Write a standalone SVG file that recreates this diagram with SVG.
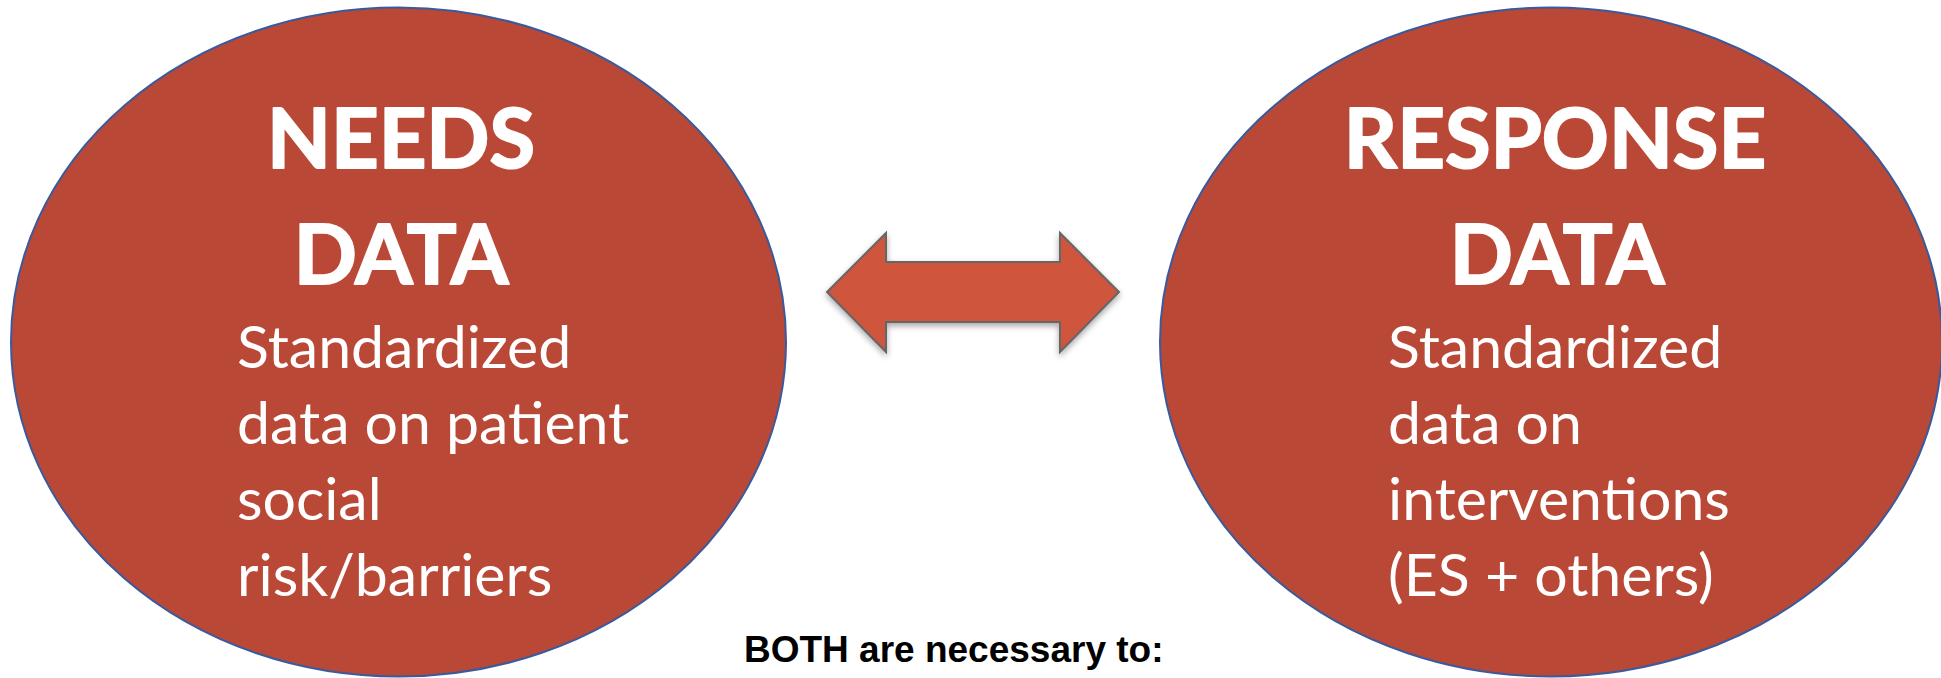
<svg xmlns="http://www.w3.org/2000/svg" width="1941" height="678" viewBox="0 0 1941 678">
<style>
.ell{fill:#B94836;stroke:#3B5A9C;stroke-width:2}
.title{font-family:Lato,"Open Sans",sans-serif;font-weight:700;font-size:83px;fill:#fff;stroke:#fff;stroke-width:2;stroke-linejoin:round;text-anchor:middle}
.body{font-family:Lato,"Open Sans",sans-serif;font-weight:400;font-size:59px;fill:#fff}
.note{font-family:"Liberation Sans",Arial,sans-serif;font-weight:700;font-size:37px;fill:#000}
.arrow{fill:#CF543D;stroke:#666;stroke-width:2;stroke-linejoin:miter}
</style>
<defs>
<filter id="sh" x="-10%" y="-20%" width="120%" height="150%">
<feDropShadow dx="0" dy="3" stdDeviation="3" flood-color="#000" flood-opacity="0.35"/>
</filter>
</defs>
<rect width="1941" height="678" fill="#fff"/>
<g id="needs">
<ellipse class="ell" cx="398.5" cy="342" rx="387.5" ry="334.5"/>
<text class="title" x="401" y="168">NEEDS</text>
<text class="title" x="401" y="284">DATA</text>
<text class="body" x="237" y="368">Standardized</text>
<text class="body" x="237" y="444">data on patient</text>
<text class="body" x="237" y="520">social</text>
<text class="body" x="237" y="596">risk/barriers</text>
</g>
<g id="response">
<ellipse class="ell" cx="1551" cy="342" rx="391" ry="334.5"/>
<text class="title" x="1555" y="168">RESPONSE</text>
<text class="title" x="1557" y="284">DATA</text>
<text class="body" x="1388" y="368">Standardized</text>
<text class="body" x="1388" y="444">data on</text>
<text class="body" x="1388" y="520">interventions</text>
<text class="body" x="1388" y="596">(ES + others)</text>
</g>
<g id="connectors">
<polygon class="arrow" filter="url(#sh)" points="827,292 886,233 886,262 1060,262 1060,233 1119,292 1060,352 1060,322 886,322 886,352"/>
</g>
<g id="caption">
<text class="note" x="744" y="662">BOTH are necessary to:</text>
</g>
</svg>
